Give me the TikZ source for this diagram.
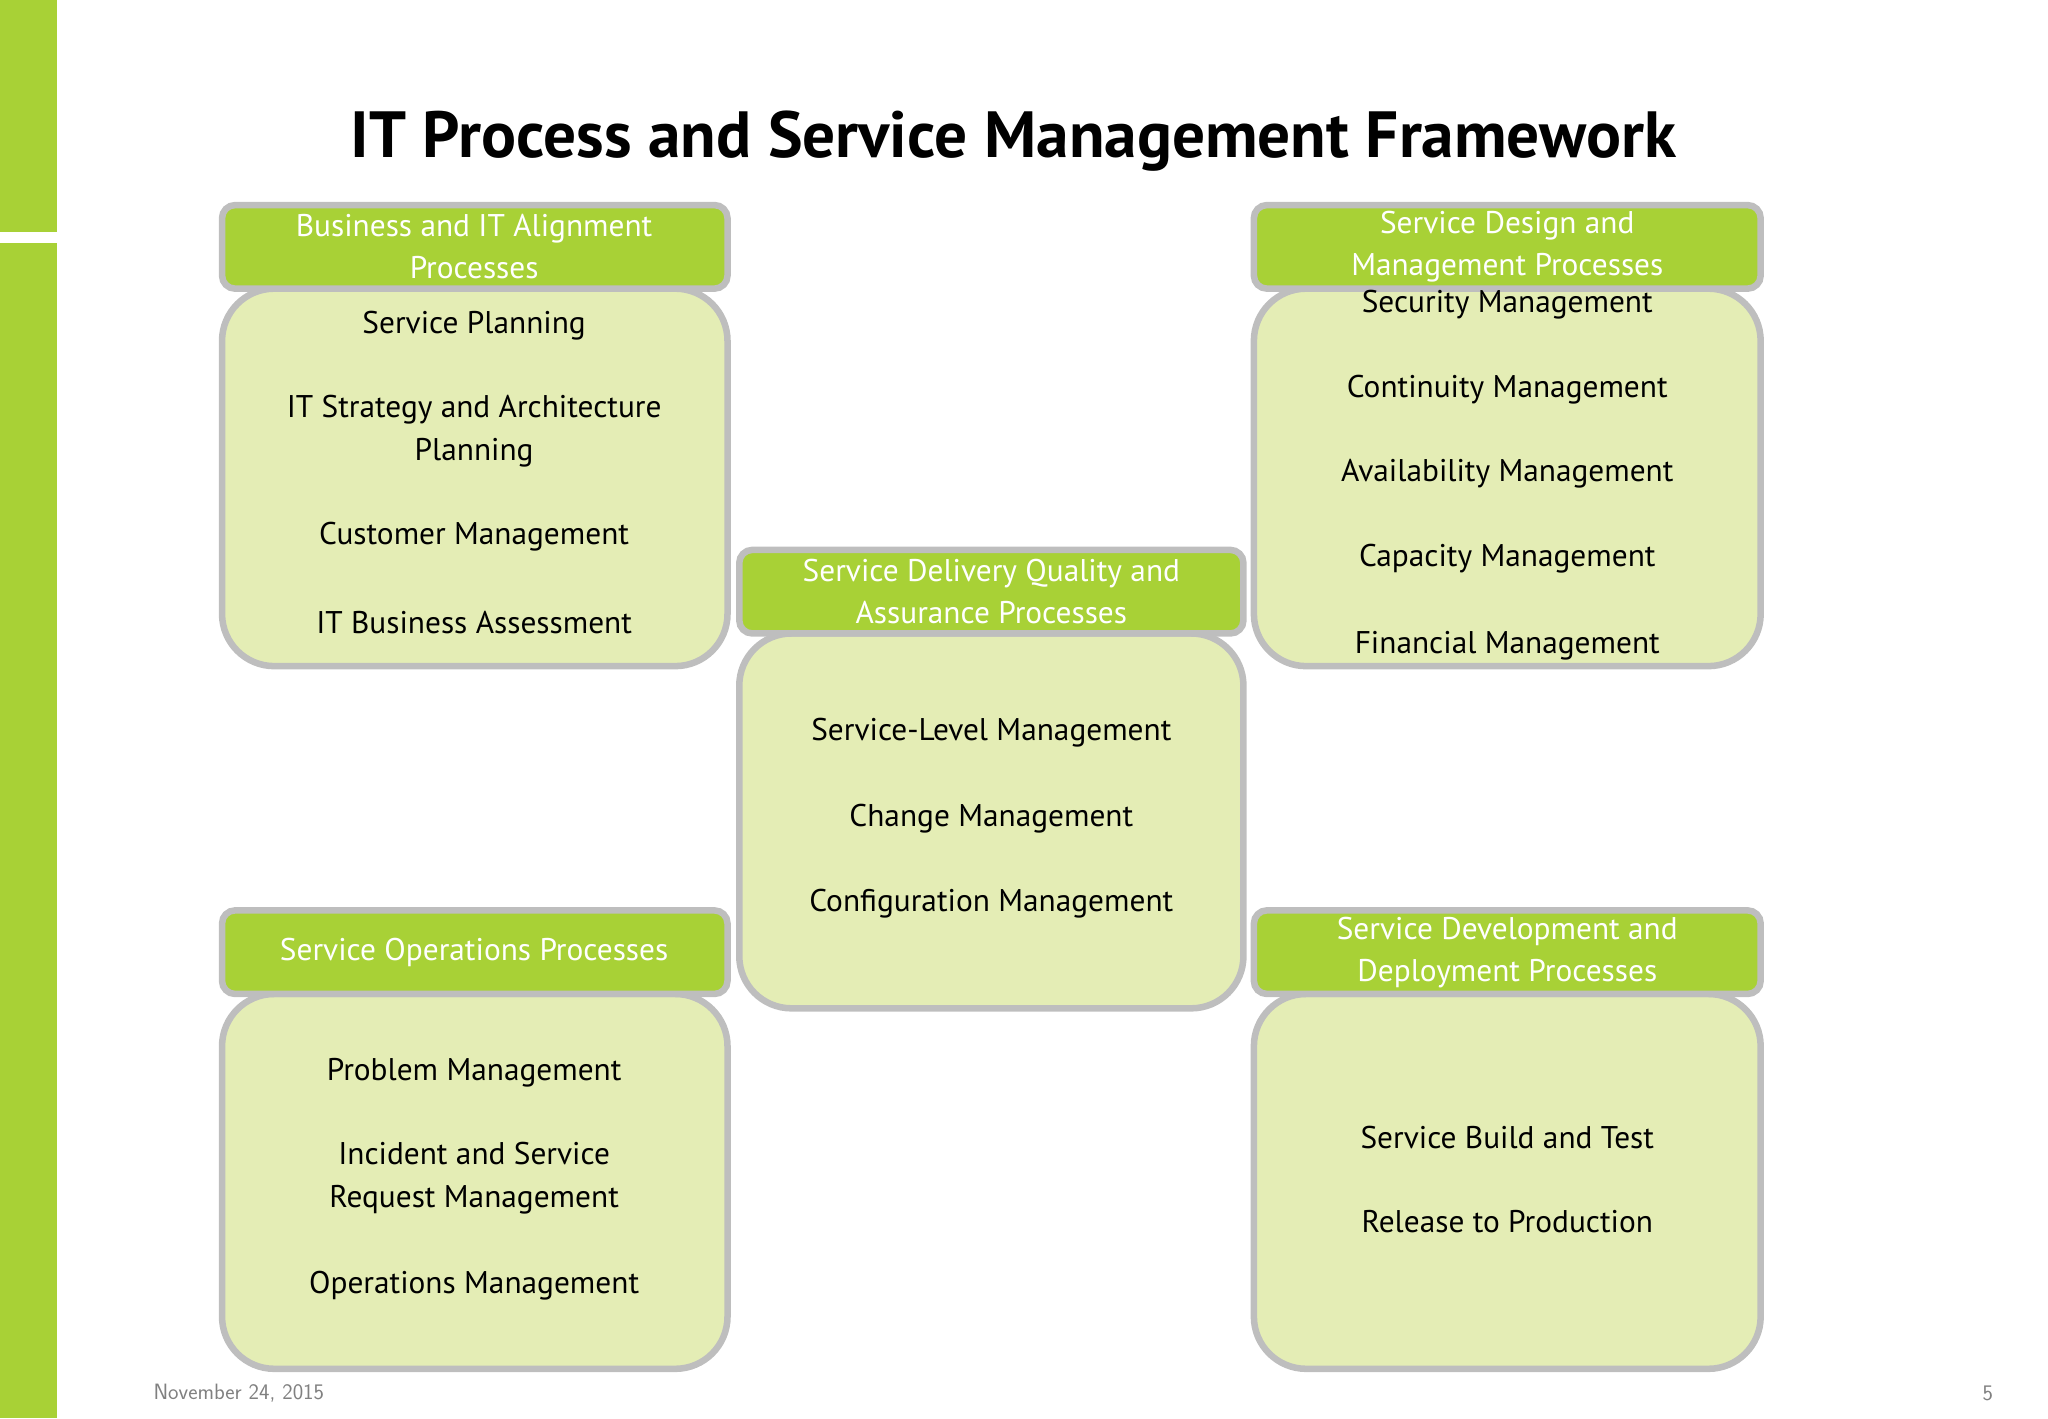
\documentclass[tikz,border=0pt]{standalone}
\usepackage{fontspec}
\setmainfont{PT Sans}
\definecolor{lg}{HTML}{A8D136}
\definecolor{bodyc}{HTML}{E4EDB5}
\definecolor{bord}{HTML}{BEBEBE}
\begin{document}
\begin{tikzpicture}[x=1pt,y=-1pt,
 hdr/.style={draw=bord,line width=5pt,fill=lg,rounded corners=10pt},
 bdy/.style={draw=bord,line width=5pt,fill=bodyc,rounded corners=40pt},
 ht/.style={text=white,font=\fontsize{24}{32}\selectfont,align=center},
 bt/.style={text=black,font=\fontsize{24}{33}\selectfont,align=center}]
\useasboundingbox (0,0) rectangle (1568,1086);
\fill[lg] (0,0) rectangle (44,178);
\fill[lg] (0,186) rectangle (44,1086);
\node[font=\bfseries\fontsize{50}{56}\selectfont] (title) at (776,108) {IT Process and Service Management Framework};
% TL
\draw[bdy] (170,221) rectangle (557,510);
\draw[hdr] (170,157) rectangle (557,221);
\node[ht] (h1) at (363,189) {Business and IT Alignment\\Processes};
\node[bt] (a1) at (363,249) {Service Planning};
\node[bt] (a2) at (363,330) {IT Strategy and Architecture\\Planning};
\node[bt] (a3) at (363,411) {Customer Management};
\node[bt] (a4) at (363,477) {IT Business Assessment};
% TR
\draw[bdy] (960,221) rectangle (1348,510);
\draw[hdr] (960,157) rectangle (1348,221);
\node[ht] (h2) at (1154,189) {Service Design and\\Management Processes};
\node[bt] (b1) at (1154,233) {Security Management};
\node[bt] (b2) at (1154,298) {Continuity Management};
\node[bt] (b3) at (1154,363) {Availability Management};
\node[bt] (b4) at (1154,428) {Capacity Management};
\node[bt] (b5) at (1154,494) {Financial Management};
% Center
\draw[bdy] (566,485) rectangle (952,772);
\draw[hdr] (566,421) rectangle (952,485);
\node[ht] (h3) at (759,453) {Service Delivery Quality and\\Assurance Processes};
\node[bt] (c1) at (759,561) {Service-Level Management};
\node[bt] (c2) at (759,627) {Change Management};
\node[bt] (c3) at (759,692) {Configuration Management};
% BL
\draw[bdy] (170,761) rectangle (557,1048);
\draw[hdr] (170,697) rectangle (557,761);
\node[ht] (h4) at (363,729) {Service Operations Processes};
\node[bt] (d1) at (363,821) {Problem Management};
\node[bt] (d2) at (363,902) {Incident and Service\\Request Management};
\node[bt] (d3) at (363,984) {Operations Management};
% BR
\draw[bdy] (960,761) rectangle (1348,1048);
\draw[hdr] (960,697) rectangle (1348,761);
\node[ht] (h5) at (1154,729) {Service Development and\\Deployment Processes};
\node[bt] (e1) at (1154,871) {Service Build and Test};
\node[bt] (e2) at (1154,935) {Release to Production};
% footer
\node[anchor=west,text=gray,font=\sffamily\fontsize{17}{20}\selectfont] (date) at (114,1067) {November 24, 2015};
\node[text=gray,font=\sffamily\fontsize{17}{20}\selectfont] (pg) at (1522,1067) {5};
\end{tikzpicture}
\end{document}
